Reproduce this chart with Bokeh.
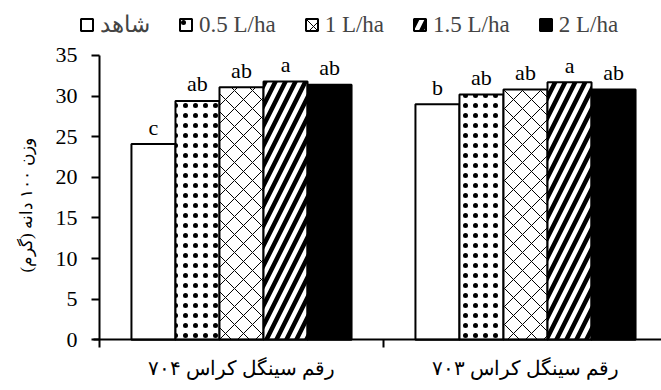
from bokeh.plotting import figure
from bokeh.models import (ColumnDataSource, Range1d, FixedTicker, Legend, LegendItem,
                          Label, LinearAxis)
from bokeh.embed import file_html
from bokeh.resources import INLINE
from bokeh.core.properties import value
import math

# Cultivars (x groups) and foliar treatments (bars within each group)
cultivars = ["رقم سینگل کراس ۷۰۴", "رقم سینگل کراس ۷۰۳"]
treatments = ["شاهد", "0.5 L/ha", "1 L/ha", "1.5 L/ha", "2 L/ha"]

# 100-grain weight (g) per treatment, one value per cultivar
control = [24.1, 29.0]
dose_0_5 = [29.4, 30.2]
dose_1 = [31.1, 30.8]
dose_1_5 = [31.8, 31.7]
dose_2 = [31.4, 30.8]

# Mean-comparison letters per treatment, one per cultivar
letters_control = ["c", "b"]
letters_0_5 = ["ab", "ab"]
letters_1 = ["ab", "ab"]
letters_1_5 = ["a", "a"]
letters_2 = ["ab", "ab"]

y_ticks = [0, 5, 10, 15, 20, 25, 30, 35]
y_title = "وزن ۱۰۰ دانه (گرم)"

series = [control, dose_0_5, dose_1, dose_1_5, dose_2]
letters = [letters_control, letters_0_5, letters_1, letters_1_5, letters_2]

# bar fill / hatch styles for each treatment
styles = [
    dict(fill_color="white"),
    dict(fill_color="white", hatch_pattern="dot", hatch_color="black", hatch_scale=10, hatch_weight=0.2),
    dict(fill_color="white", hatch_pattern="diagonal_cross", hatch_color="black", hatch_scale=18, hatch_weight=1),
    dict(fill_color="white", hatch_pattern="right_diagonal_line", hatch_color="black", hatch_scale=20, hatch_weight=4.5),
    dict(fill_color="black"),
]

SERIF = "Liberation Serif"
W, H = 661, 390
bar_w = 0.155
GROUP_PX = 284          # pixels per cultivar group
AXIS_X = 99             # pixel column of the value axis
AXIS_Y = 339.3          # pixel row of the category axis
PX_PER_UNIT = 8.123

# The frame covers the whole canvas so the legend, axis labels and titles stay
# inside it; both axes are pinned at 0.
p = figure(width=W, height=H, output_backend="svg", toolbar_location=None,
           x_range=Range1d(-AXIS_X / GROUP_PX, (W - AXIS_X) / GROUP_PX),
           y_range=Range1d(-(H - AXIS_Y) / PX_PER_UNIT, AXIS_Y / PX_PER_UNIT),
           x_axis_location=None, y_axis_location=None,
           min_border_left=0, min_border_right=0, min_border_top=0,
           min_border_bottom=0)
p.outline_line_color = None
p.background_fill_color = "white"
p.border_fill_color = "white"

legend_items = []
for k, (name, vals, lets, st) in enumerate(zip(treatments, series, letters, styles)):
    xs = [g + 0.5 + (k - 2) * bar_w for g in range(len(cultivars))]
    src = ColumnDataSource(dict(x=xs, top=vals, lab=lets))
    r = p.vbar(x="x", top="top", bottom=0, width=bar_w, source=src,
               line_color="black", line_width=2, **st)
    p.text(x="x", y="top", text="lab", source=src, text_align="center",
           text_baseline="alphabetic", y_offset=-17,
           text_font=value(SERIF), text_font_size="22px", text_color="black")
    legend_items.append(LegendItem(label=name, renderers=[r]))

legend = Legend(items=legend_items, orientation="horizontal", location=(79, H - 38),
                padding=0, margin=0, spacing=28, label_standoff=6,
                glyph_width=15, glyph_height=15, label_height=20,
                border_line_color=None, background_fill_alpha=0,
                label_text_font=SERIF, label_text_font_size="23px")
p.add_layout(legend, "center")

# value axis, pinned at x = 0
ya = LinearAxis(fixed_location=0)
ya.ticker = FixedTicker(ticks=y_ticks)
ya.bounds = (0, 35)
ya.axis_line_width = 2
ya.major_tick_line_width = 2
ya.major_tick_out = 8
ya.major_tick_in = 0
ya.minor_tick_out = 0
ya.minor_tick_in = 0
ya.major_label_standoff = 14
ya.major_label_text_font = SERIF
ya.major_label_text_font_size = "22px"
ya.major_label_text_color = "black"
p.add_layout(ya, "left")

# value axis title
p.add_layout(Label(x=26, y=H - 205, x_units="screen", y_units="screen",
                   text=y_title, angle=math.pi / 2, text_align="center",
                   text_baseline="middle", text_font=SERIF, text_font_size="17px",
                   text_color="black"))

# category axis pinned at y = 0: labels at group centres, boundaries as minor ticks
xa = LinearAxis(fixed_location=0)
xa.ticker = FixedTicker(ticks=[0.5, 1.5], minor_ticks=[0, 1, 2])
xa.major_label_overrides = {0.5: cultivars[0], 1.5: cultivars[1]}
xa.bounds = (-0.02, 2)
xa.axis_line_width = 2
xa.major_tick_out = 0
xa.major_tick_in = 0
xa.minor_tick_out = 8
xa.minor_tick_in = 0
xa.minor_tick_line_width = 2
xa.minor_tick_line_color = "black"
xa.major_label_standoff = 9
xa.major_label_text_font = SERIF
xa.major_label_text_font_size = "20px"
xa.major_label_text_color = "black"
p.add_layout(xa, "below")

p.xgrid.visible = False
p.ygrid.visible = False

open("out.html", "w").write(file_html(p, INLINE))
